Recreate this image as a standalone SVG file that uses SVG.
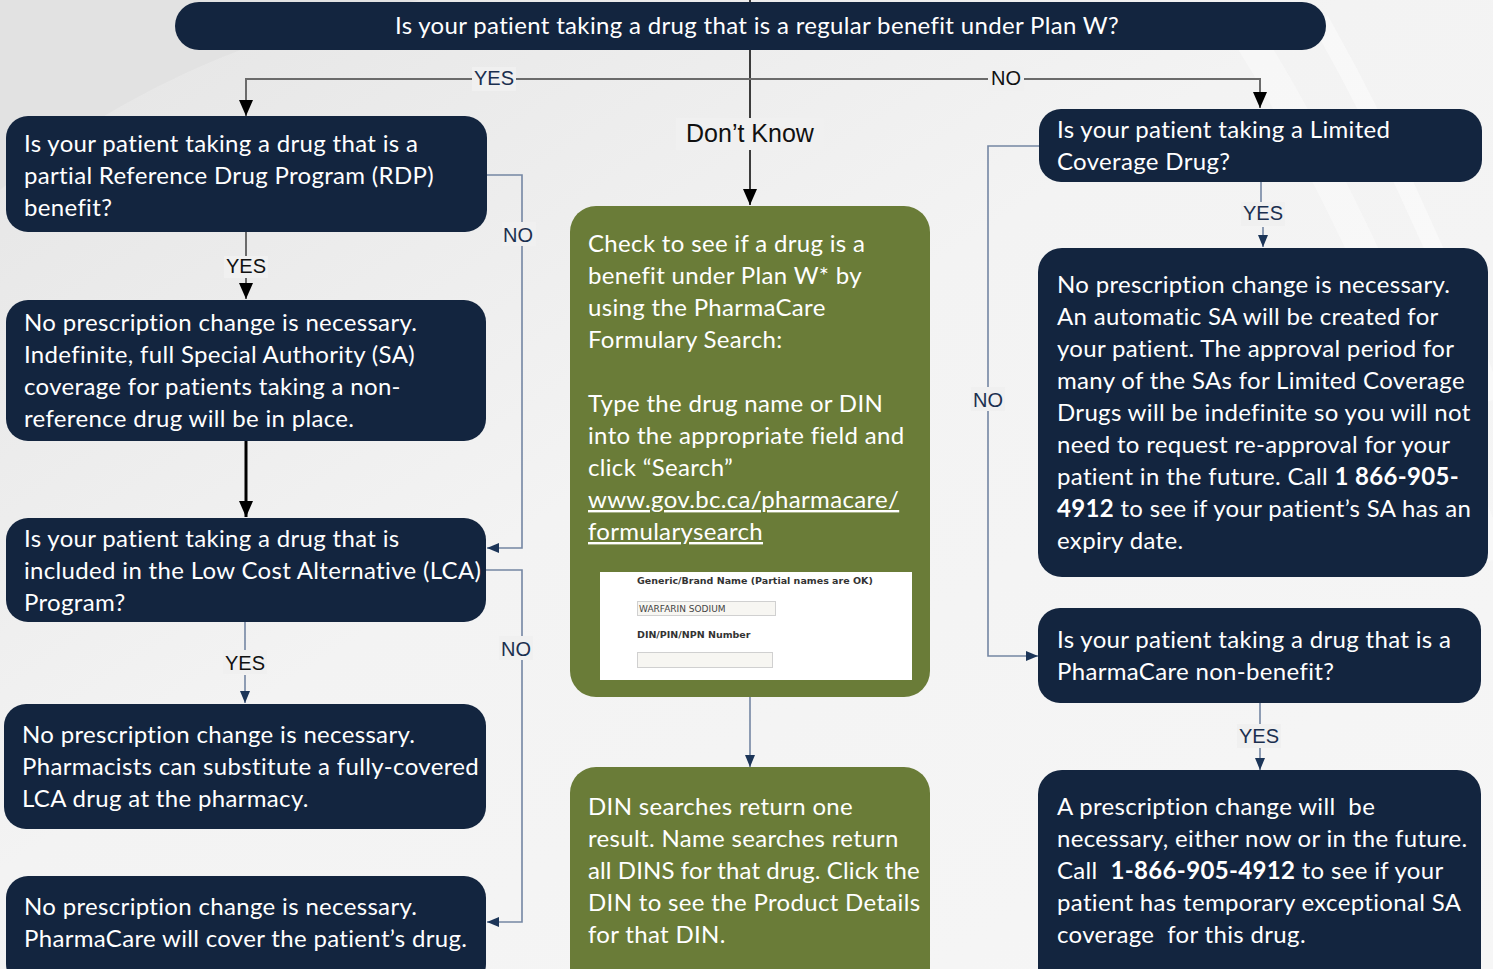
<svg xmlns="http://www.w3.org/2000/svg" width="1493" height="969" viewBox="0 0 1493 969">
<defs>
<linearGradient id="bg" x1="0" y1="0" x2="1" y2="1">
<stop offset="0" stop-color="#e4e4e4"/>
<stop offset="0.45" stop-color="#f3f3f3"/>
<stop offset="1" stop-color="#f6f6f6"/>
</linearGradient>
<marker id="abBig" markerWidth="16" markerHeight="14" refX="16" refY="7" orient="auto" markerUnits="userSpaceOnUse" viewBox="0 0 16 14">
<path d="M0,0 L16,7 L0,14 z" fill="#000"/>
</marker>
<marker id="an" markerWidth="12" markerHeight="10" refX="12" refY="5" orient="auto" markerUnits="userSpaceOnUse" viewBox="0 0 12 10">
<path d="M0,0 L12,5 L0,10 z" fill="#1c3558"/>
</marker>
<style>
.nv{fill:#13253f}
.gr{fill:#6a7c38}
.t{font-family:Lato,"Open Sans","Liberation Sans",sans-serif;font-size:24px;letter-spacing:0.33px;fill:#fff}
.b{font-weight:bold}
.lbl{font-family:"Liberation Sans",Arial,sans-serif;font-size:20px}
.lb{fill:#f0f0f0}
.cg{stroke:#6b6b6b;stroke-width:2;fill:none}
.cs{stroke:#7486a3;stroke-width:1.6;fill:none}
.ck{stroke:#000;stroke-width:1.5;fill:none}
.sm{font-family:Verdana,"DejaVu Sans",sans-serif;font-size:9.5px;font-weight:bold;fill:#333}
</style>
</defs>
<rect width="1493" height="969" fill="url(#bg)"/>
<path d="M0,190 C120,90 260,30 420,0 L0,0 z" fill="#e2e2e2"/>
<path d="M1250,40 C1350,200 1440,420 1493,560" stroke="#fafafa" stroke-width="30" fill="none" opacity="0.6"/>
<path d="M1320,20 C1410,180 1470,330 1493,400" stroke="#fbfbfb" stroke-width="18" fill="none" opacity="0.6"/>

<g id="connectors">
<line x1="750" y1="0" x2="750" y2="118" class="ck"/>
<line x1="750" y1="150" x2="750" y2="205" class="ck" marker-end="url(#abBig)"/>
<polyline points="750,79 246,79 246,116" class="cg" marker-end="url(#abBig)"/>
<polyline points="750,79 1260,79 1260,108" class="cg" marker-end="url(#abBig)"/>
<line x1="246" y1="232" x2="246" y2="256" class="cg"/>
<line x1="246" y1="278" x2="246" y2="299" class="cg" marker-end="url(#abBig)"/>
<polyline points="487,175 522,175 522,548 487,548" class="cs" marker-end="url(#an)"/>
<line x1="246" y1="441" x2="246" y2="517" stroke="#000" stroke-width="3" marker-end="url(#abBig)"/>
<line x1="245" y1="622" x2="245" y2="650" class="cs"/>
<line x1="245" y1="675" x2="245" y2="703" class="cs" marker-end="url(#an)"/>
<polyline points="486,570 522,570 522,922 487,922" class="cs" marker-end="url(#an)"/>
<line x1="750" y1="697" x2="750" y2="767" class="cs" marker-end="url(#an)"/>
<line x1="1261" y1="182" x2="1261" y2="202" class="cs"/>
<line x1="1263" y1="227" x2="1263" y2="247" class="cs" marker-end="url(#an)"/>
<polyline points="1039,146 988,146 988,656 1038,656" class="cs" marker-end="url(#an)"/>
<line x1="1260" y1="703" x2="1260" y2="724" class="cs"/>
<line x1="1260" y1="748" x2="1260" y2="770" class="cs" marker-end="url(#an)"/>
<rect x="472" y="67" width="44" height="24" class="lb"/>
<text x="494" y="85" class="lbl" text-anchor="middle" fill="#1b2f4f">YES</text>
<rect x="988" y="67" width="36" height="24" class="lb"/>
<text x="1006" y="85" class="lbl" text-anchor="middle" fill="#111">NO</text>
<rect x="676" y="118" width="148" height="32" class="lb"/>
<text x="750" y="142" font-family="Liberation Sans,Arial,sans-serif" font-size="25" text-anchor="middle" fill="#111">Don’t Know</text>
<rect x="224" y="256" width="44" height="22" class="lb"/>
<text x="246" y="273" class="lbl" text-anchor="middle" fill="#111">YES</text>
<rect x="502" y="222" width="34" height="24" class="lb"/>
<text x="518" y="242" class="lbl" text-anchor="middle" fill="#1b2f4f">NO</text>
<rect x="223" y="650" width="44" height="24" class="lb"/>
<text x="245" y="670" class="lbl" text-anchor="middle" fill="#111">YES</text>
<rect x="499" y="636" width="34" height="24" class="lb"/>
<text x="516" y="656" class="lbl" text-anchor="middle" fill="#1b2f4f">NO</text>
<rect x="1241" y="202" width="44" height="24" class="lb"/>
<text x="1263" y="220" class="lbl" text-anchor="middle" fill="#1b2f4f">YES</text>
<rect x="971" y="387" width="34" height="24" class="lb"/>
<text x="988" y="407" class="lbl" text-anchor="middle" fill="#1b2f4f">NO</text>
<rect x="1237" y="724" width="44" height="24" class="lb"/>
<text x="1259" y="743" class="lbl" text-anchor="middle" fill="#1b2f4f">YES</text>
</g>

<g id="n-top">
<rect x="175" y="2" width="1151" height="48" rx="24" class="nv"/>
<text x="757" y="34" class="t" text-anchor="middle">Is your patient taking a drug that is a regular benefit under Plan W?</text>
</g>

<g id="n-rdp">
<rect x="6" y="116" width="481" height="116" rx="22" class="nv"/>
<text class="t"><tspan x="24" y="152">Is your patient taking a drug that is a</tspan><tspan x="24" y="184">partial Reference Drug Program (RDP)</tspan><tspan x="24" y="216">benefit?</tspan></text>
</g>

<g id="n-rdp-yes">
<rect x="6" y="300" width="480" height="141" rx="22" class="nv"/>
<text class="t"><tspan x="24" y="331">No prescription change is necessary.</tspan><tspan x="24" y="363">Indefinite, full Special Authority (SA)</tspan><tspan x="24" y="395">coverage for patients taking a non-</tspan><tspan x="24" y="427">reference drug will be in place.</tspan></text>
</g>

<g id="n-lca">
<rect x="6" y="518" width="480" height="104" rx="22" class="nv"/>
<text class="t"><tspan x="24" y="547">Is your patient taking a drug that is</tspan><tspan x="24" y="579">included in the Low Cost Alternative (LCA)</tspan><tspan x="24" y="611">Program?</tspan></text>
</g>

<g id="n-lca-yes">
<rect x="4" y="704" width="482" height="125" rx="22" class="nv"/>
<text class="t"><tspan x="22" y="743">No prescription change is necessary.</tspan><tspan x="22" y="775">Pharmacists can substitute a fully-covered</tspan><tspan x="22" y="807">LCA drug at the pharmacy.</tspan></text>
</g>

<g id="n-lca-no">
<rect x="6" y="876" width="480" height="110" rx="22" class="nv"/>
<text class="t"><tspan x="24" y="915">No prescription change is necessary.</tspan><tspan x="24" y="947">PharmaCare will cover the patient’s drug.</tspan></text>
</g>

<g id="n-check">
<rect x="570" y="206" width="360" height="491" rx="26" class="gr"/>
<text class="t"><tspan x="588" y="252">Check to see if a drug is a</tspan><tspan x="588" y="284">benefit under Plan W* by</tspan><tspan x="588" y="316">using the PharmaCare</tspan><tspan x="588" y="348">Formulary Search:</tspan><tspan x="588" y="412">Type the drug name or DIN</tspan><tspan x="588" y="444">into the appropriate field and</tspan><tspan x="588" y="476">click “Search”</tspan><tspan x="588" y="508" text-decoration="underline">www.gov.bc.ca/pharmacare/</tspan><tspan x="588" y="540" text-decoration="underline">formularysearch</tspan></text>
<rect x="600" y="572" width="312" height="108" fill="#fff"/>
<text x="637" y="584" class="sm">Generic/Brand Name (Partial names are OK)</text>
<rect x="637.5" y="601.5" width="138" height="14" fill="#f7f6f2" stroke="#d0d0d0"/>
<text x="639" y="612" font-family="Verdana,'DejaVu Sans',sans-serif" font-size="9" fill="#444">WARFARIN SODIUM</text>
<text x="637" y="638" class="sm">DIN/PIN/NPN Number</text>
<rect x="637.5" y="652.5" width="135" height="15" fill="#f7f6f2" stroke="#d0d0d0"/>
</g>

<g id="n-din">
<rect x="570" y="767" width="360" height="230" rx="26" class="gr"/>
<text class="t"><tspan x="588" y="815">DIN searches return one</tspan><tspan x="588" y="847">result. Name searches return</tspan><tspan x="588" y="879" textLength="332" lengthAdjust="spacing">all DINS for that drug. Click the</tspan><tspan x="588" y="911">DIN to see the Product Details</tspan><tspan x="588" y="943">for that DIN.</tspan></text>
</g>

<g id="n-lcd">
<rect x="1039" y="109" width="443" height="73" rx="22" class="nv"/>
<text class="t"><tspan x="1057" y="138">Is your patient taking a Limited</tspan><tspan x="1057" y="170">Coverage Drug?</tspan></text>
</g>

<g id="n-lcd-yes">
<rect x="1038" y="248" width="450" height="329" rx="24" class="nv"/>
<text class="t"><tspan x="1057" y="293">No prescription change is necessary.</tspan><tspan x="1057" y="325">An automatic SA will be created for</tspan><tspan x="1057" y="357">your patient. The approval period for</tspan><tspan x="1057" y="389">many of the SAs for Limited Coverage</tspan><tspan x="1057" y="421">Drugs will be indefinite so you will not</tspan><tspan x="1057" y="453">need to request re-approval for your</tspan><tspan x="1057" y="485">patient in the future. Call <tspan class="b">1 866-905-</tspan></tspan><tspan x="1057" y="517"><tspan class="b">4912</tspan> to see if your patient’s SA has an</tspan><tspan x="1057" y="549">expiry date.</tspan></text>
</g>

<g id="n-nonben">
<rect x="1038" y="608" width="443" height="95" rx="22" class="nv"/>
<text class="t"><tspan x="1057" y="648">Is your patient taking a drug that is a</tspan><tspan x="1057" y="680">PharmaCare non-benefit?</tspan></text>
</g>

<g id="n-nonben-yes">
<rect x="1038" y="770" width="443" height="230" rx="24" class="nv"/>
<text class="t" xml:space="preserve"><tspan x="1057" y="815">A prescription change will  be</tspan><tspan x="1057" y="847">necessary, either now or in the future.</tspan><tspan x="1057" y="879">Call  <tspan class="b">1-866-905-4912</tspan> to see if your</tspan><tspan x="1057" y="911">patient has temporary exceptional SA</tspan><tspan x="1057" y="943">coverage  for this drug.</tspan></text>
</g>
</svg>
